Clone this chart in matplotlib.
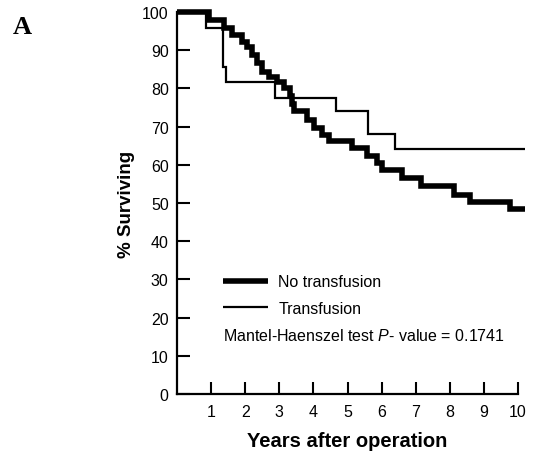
import matplotlib
matplotlib.use("Agg")
import matplotlib.pyplot as plt

plt.rcParams['font.family'] = ['Liberation Sans', 'DejaVu Sans']
plt.rcParams['mathtext.fontset'] = 'custom'
plt.rcParams['mathtext.rm'] = 'Liberation Sans'
plt.rcParams['mathtext.it'] = 'Liberation Sans:italic'

# Kaplan-Meier step data (years, % surviving)
no_tx_time = [0, 0.94, 1.38, 1.62, 1.92, 2.06, 2.21, 2.35, 2.50, 2.70, 2.92, 3.14,
              3.30, 3.38, 3.43, 3.82, 4.02, 4.26, 4.46, 5.13, 5.58, 5.87, 6.02,
              6.61, 7.15, 8.13, 8.58, 9.76, 10.2]
no_tx_surv = [100, 98.0, 95.7, 94.0, 92.2, 90.9, 88.8, 86.6, 84.4, 83.1, 81.8, 80.2,
              78.0, 76.0, 74.0, 71.8, 69.6, 67.9, 66.1, 64.4, 62.2, 60.5, 58.7,
              56.6, 54.4, 52.2, 50.2, 48.3, 48.3]

tx_time = [0, 0.85, 1.35, 1.45, 2.87, 4.67, 5.60, 6.40, 10.2]
tx_surv = [100, 95.7, 85.5, 81.8, 77.4, 74.0, 68.1, 64.2, 64.2]

series_labels = ["No transfusion", "Transfusion"]
x_ticks = [1, 2, 3, 4, 5, 6, 7, 8, 9, 10]
y_ticks = [0, 10, 20, 30, 40, 50, 60, 70, 80, 90, 100]

fig = plt.figure(figsize=(5.34, 4.52), dpi=100)
ax = fig.add_axes([177/534, 57/452, 341/534, 382/452])

ax.step(no_tx_time, no_tx_surv, where='post', color='black', lw=4.0,
        solid_joinstyle='miter', solid_capstyle='butt', clip_on=False,
        label=series_labels[0])
ax.step(tx_time, tx_surv, where='post', color='black', lw=1.6,
        solid_joinstyle='miter', solid_capstyle='butt', clip_on=False,
        label=series_labels[1])

ax.set_xlim(0, 10)
ax.set_ylim(0, 100)
ax.set_xticks(x_ticks)
ax.set_yticks(y_ticks)
ax.spines['top'].set_visible(False)
ax.spines['right'].set_visible(False)
for s in ['left', 'bottom']:
    ax.spines[s].set_linewidth(1.6)
ax.tick_params(axis='both', direction='in', length=9, width=1.5, labelsize=11.5)
ax.tick_params(axis='y', pad=6)
ax.tick_params(axis='x', pad=7)

ax.set_xlabel("Years after operation", fontsize=14.5, fontweight='bold', labelpad=9)
ax.set_ylabel("% Surviving", fontsize=13.5, fontweight='bold', labelpad=5)

leg = ax.legend(loc='center left', bbox_to_anchor=(0.135, 0.259), frameon=False,
                fontsize=11.5, handlelength=2.8, handletextpad=0.65,
                labelspacing=0.7, borderpad=0, borderaxespad=0)

ax.text(0.135, 0.1545, r"Mantel-Haenszel test $\it{P}$- value = 0.1741",
        transform=ax.transAxes, fontsize=11.5, va='center', ha='left')

fig.text(13/534, 1 - 27/452, "A", fontsize=19, fontweight='bold',
         family='Liberation Serif', va='center', ha='left')

fig.savefig("out.png", dpi=100)
